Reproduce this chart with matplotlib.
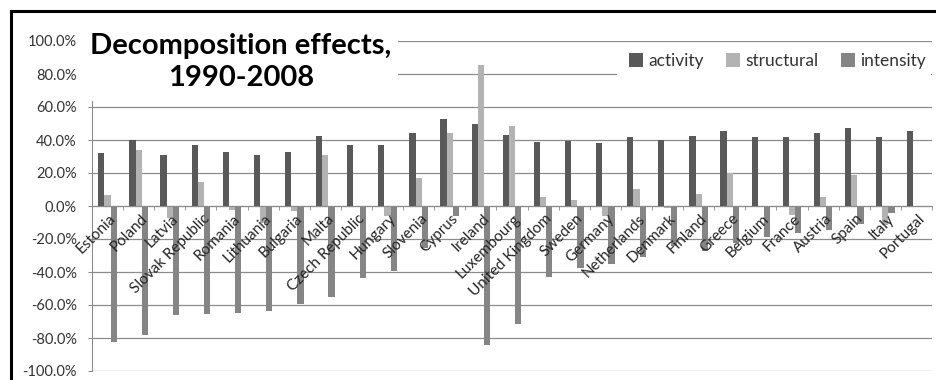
import numpy as np
import matplotlib
matplotlib.use("Agg")
import matplotlib.pyplot as plt
from matplotlib.patches import Rectangle
from matplotlib.lines import Line2D

countries = ['Estonia', 'Poland', 'Latvia', 'Slovak Republic', 'Romania', 'Lithuania',
             'Bulgaria', 'Malta', 'Czech Republic', 'Hungary', 'Slovenia', 'Cyprus',
             'Ireland', 'Luxembourg', 'United Kingdom', 'Sweden', 'Germany', 'Netherlands',
             'Denmark', 'Finland', 'Greece', 'Belgium', 'France', 'Austria', 'Spain',
             'Italy', 'Portugal']
activity = [31.9, 40.0, 31.0, 37.0, 32.5, 31.0, 33.0, 42.4, 37.0, 37.0, 44.0, 52.5, 49.5, 43.0,
            38.6, 39.6, 38.0, 41.6, 40.0, 42.4, 45.5, 41.6, 41.6, 44.0, 47.0, 41.6, 45.5]
structural = [6.7, 34.0, -7.5, 14.7, -2.4, -10.0, -3.0, 31.0, 0.0, -5.8, 17.2, 44.0, 85.5, 48.5,
              5.7, 3.5, -6.3, 10.2, -1.2, 7.5, 19.8, 0.0, -5.5, 5.7, 18.8, -11.5, 0.0]
intensity = [-82.2, -78.0, -66.0, -65.3, -65.0, -63.4, -59.4, -55.3, -43.8, -39.4, -25.7, -6.3,
             -84.2, -71.5, -42.8, -37.8, -35.4, -31.0, -24.2, -27.0, -22.2, -18.6, -16.2, -14.5,
             -10.9, -4.2, 0.0]
series = ['activity', 'structural', 'intensity']
colors = ['#595959', '#b3b3b3', '#858585']

plt.rcParams['font.family'] = ['Lato', 'DejaVu Sans']

W, H = 937, 380
fig = plt.figure(figsize=(W / 100, H / 100), dpi=100)
ax = fig.add_axes([92 / W, 9 / H, 840 / W, 330 / H])

x = np.arange(len(countries))
w = 0.2
for i, (vals, name, c) in enumerate(zip([activity, structural, intensity], series, colors)):
    ax.bar(x + (i - 1) * w, vals, width=w, color=c, label=name, zorder=3)

ax.set_xlim(-0.5, len(countries) - 0.5)
ax.set_ylim(-100, 100)
ax.set_yticks(np.arange(-100, 101, 20))
ax.yaxis.set_major_formatter(lambda v, p: f"{v:.1f}%")
ax.grid(axis='y', color='#8c8c8c', lw=0.9, zorder=0)
ax.set_axisbelow(True)

for s in ['top', 'right']:
    ax.spines[s].set_visible(False)
ax.spines['left'].set_color('#8c8c8c')
ax.spines['bottom'].set_position(('data', 0))
ax.spines['bottom'].set_color('#8c8c8c')
ax.spines['bottom'].set_zorder(4)

# category labels sit on top of the bars, so they are drawn as texts
ax.set_xticks(x, [''] * len(countries))
ax.set_xticks(np.arange(-0.5, len(countries)), minor=True)
ax.tick_params(axis='x', which='major', length=0)
ax.tick_params(axis='x', which='minor', length=3, color='#8c8c8c', direction='out')
ax.tick_params(axis='y', length=3, color='#8c8c8c', pad=8, labelsize=10.5, labelcolor='#333333')
for xi, name in zip(x, countries):
    ax.annotate(name, (xi, 0), xytext=(1, -4), textcoords='offset points',
                rotation=45, rotation_mode='anchor', ha='right', va='top',
                fontsize=11, color='#262626', zorder=6, annotation_clip=False)

# white panels under the title and the legend
fig.add_artist(Rectangle((84 / W, 1 - 101 / H), (398 - 84) / W, 87 / H,
                         transform=fig.transFigure, facecolor='white', edgecolor='none', zorder=5))
fig.add_artist(Rectangle((617 / W, 1 - 77 / H), (931 - 617) / W, 34 / H,
                         transform=fig.transFigure, facecolor='white', edgecolor='none', zorder=5))

fig.text(241 / W, 1 - 62 / H, 'Decomposition effects,\n1990-2008', ha='center', va='center',
         fontsize=21, fontweight='bold', color='black', linespacing=1.25, zorder=6)

leg = fig.legend(loc='center right', bbox_to_anchor=(926 / W, 1 - 61 / H), ncol=3,
                 frameon=False, fontsize=12.5, handlelength=0.8, handleheight=0.8,
                 handletextpad=0.3, columnspacing=1.3, borderpad=0, borderaxespad=0)
leg.set_zorder(6)
for t in leg.get_texts():
    t.set_color('#333333')

# outer frame
fig.add_artist(Line2D([11 / W, 1], [1 - 11 / H, 1 - 11 / H], transform=fig.transFigure,
                      color='black', lw=2.2, zorder=7))
fig.add_artist(Line2D([11 / W, 11 / W], [0, 1 - 11 / H], transform=fig.transFigure,
                      color='black', lw=2.2, zorder=7))

fig.savefig('out.png', dpi=100, facecolor='white')
